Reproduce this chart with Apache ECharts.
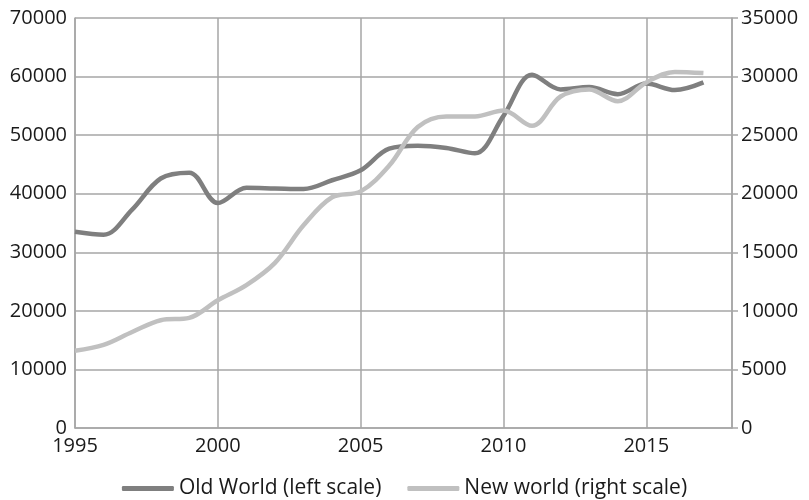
<!DOCTYPE html>
<html>
<head>
<meta charset="utf-8">
<script src="https://cdn.jsdelivr.net/npm/echarts@6/dist/echarts.min.js"></script>
<style>html,body{margin:0;padding:0;background:#fff}#c{width:809px;height:500px}</style>
</head>
<body>
<div id="c"></div>
<script>
const years = [1995,1996,1997,1998,1999,2000,2001,2002,2003,2004,2005,2006,2007,2008,2009,2010,2011,2012,2013,2014,2015,2016,2017];
const oldWorld = [33500,33000,37300,42600,43600,38400,41000,40900,40800,42300,44000,47700,48200,47800,46900,53300,60300,57800,58200,57000,58800,57700,59000];
const newWorld = [6600,7100,8200,9200,9400,10900,12200,14100,17300,19700,20200,22400,25700,26600,26600,27100,25800,28300,28900,27900,29500,30400,30300];
const leftTicks = {min:0,max:70000,interval:10000};
const rightTicks = {min:0,max:35000,interval:5000};
const seriesNames = ['Old World (left scale)','New world (right scale)'];

const font = 'Open Sans';
const gridColor = '#a6a6a6';
const txt = '#1a1a1a';
const plain = v => String(v);
const chart = echarts.init(document.getElementById('c'));
chart.setOption({
  animation:false,
  grid:{left:75,right:77,top:18,bottom:72,containLabel:false},
  legend:{
    top:473,left:'center',
    itemWidth:52,itemHeight:5,itemGap:26,
    icon:'roundRect',
    textStyle:{fontFamily:font,fontSize:21,color:txt},
    data:seriesNames
  },
  xAxis:{
    type:'value',min:1995,max:2018,interval:5,
    axisLine:{show:true,lineStyle:{color:gridColor,width:1.5}},
    axisTick:{show:false},
    axisLabel:{showMaxLabel:false,fontFamily:font,fontSize:20,color:txt,margin:8,formatter:plain},
    splitLine:{show:true,lineStyle:{color:gridColor,width:1.5}}
  },
  yAxis:[
    {type:'value',position:'left',min:leftTicks.min,max:leftTicks.max,interval:leftTicks.interval,
     axisLine:{show:true,lineStyle:{color:gridColor,width:1.5}},
     axisTick:{show:false},
     axisLabel:{fontFamily:font,fontSize:20,color:txt,margin:8,formatter:plain},
     splitLine:{show:true,lineStyle:{color:gridColor,width:1.5}}},
    {type:'value',position:'right',min:rightTicks.min,max:rightTicks.max,interval:rightTicks.interval,
     axisLine:{show:true,lineStyle:{color:gridColor,width:1.5}},
     axisTick:{show:true,length:6,lineStyle:{color:gridColor,width:1.5}},
     axisLabel:{fontFamily:font,fontSize:20,color:txt,margin:9,formatter:plain},
     splitLine:{show:false}}
  ],
  series:[
    {name:seriesNames[0],type:'line',yAxisIndex:0,smooth:0.35,showSymbol:false,symbol:'none',
     color:'#7f7f7f',lineStyle:{width:4.5,color:'#7f7f7f'},
     data:years.map((y,i)=>[y,oldWorld[i]])},
    {name:seriesNames[1],type:'line',yAxisIndex:1,smooth:0.35,showSymbol:false,symbol:'none',
     color:'#c0c0c0',lineStyle:{width:4.5,color:'#c0c0c0'},
     data:years.map((y,i)=>[y,newWorld[i]])}
  ]
});
</script>
</body>
</html>
